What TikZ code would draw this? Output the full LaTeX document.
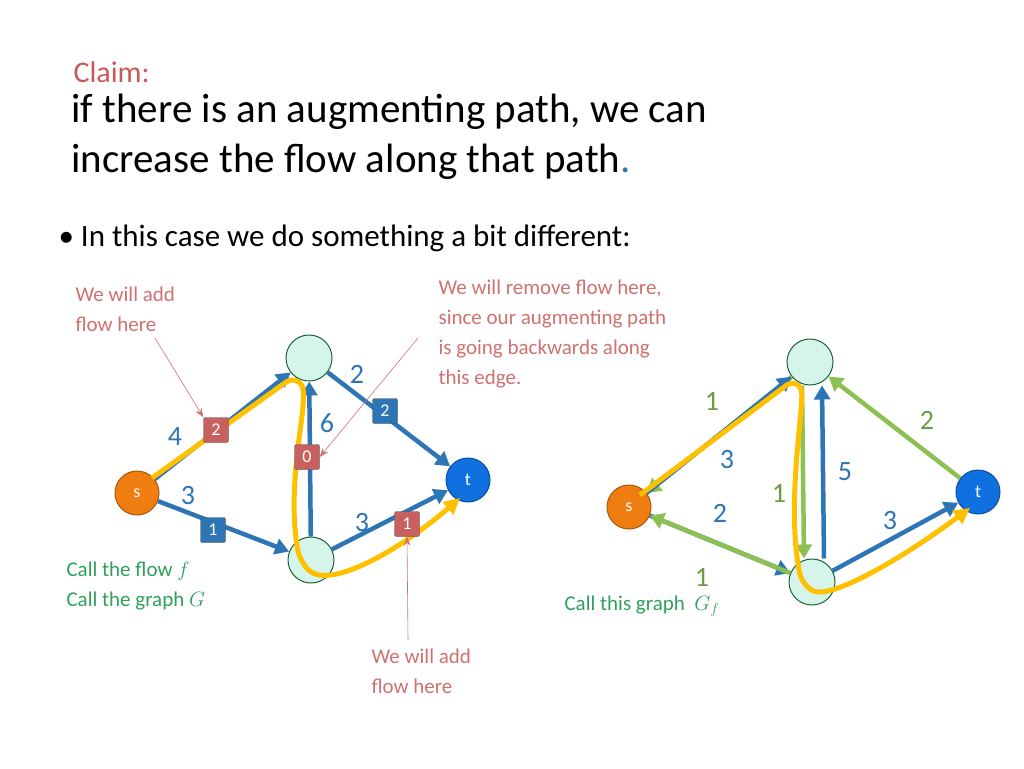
\documentclass[tikz,border=0pt]{standalone}
\usepackage{fontspec}
\setmainfont{Carlito}
\usetikzlibrary{calc, arrows.meta}
\definecolor{claimred}{HTML}{C8585A}
\definecolor{notered}{HTML}{D07070}
\definecolor{edgeblue}{HTML}{2E75B6}
\definecolor{edgegreen}{HTML}{8CC152}
\definecolor{textgreen}{HTML}{2EA05A}
\definecolor{pathyellow}{HTML}{FFC000}
\definecolor{nodecyan}{HTML}{D5F5EA}
\definecolor{sorange}{HTML}{F07D10}
\definecolor{tblue}{HTML}{1070E0}
\definecolor{boxblue}{HTML}{2E75B6}
\definecolor{boxred}{HTML}{C86060}
\tikzset{
	vtx/.style={circle, draw=textgreen!60!black, line width=1pt, minimum size=46pt, inner sep=0pt, fill=nodecyan},
	svtx/.style={vtx, fill=sorange, draw=sorange!70!black, minimum size=44pt, text=white, font=\fontsize{18}{20}\selectfont},
	tvtx/.style={vtx, fill=tblue, draw=tblue!70!black, minimum size=44pt, text=white, font=\fontsize{18}{20}\selectfont},
	bedge/.style={draw=edgeblue, line width=4.5pt, -{Triangle[length=14pt,width=16pt]}},
	gedge/.style={draw=edgegreen, line width=4.5pt, -{Triangle[length=14pt,width=16pt]}},
	capnum/.style={text=edgeblue, font=\fontsize{28}{30}\selectfont},
	rcapnum/.style={text=edgegreen!80!black, font=\fontsize{28}{30}\selectfont},
	flowbox/.style={draw=black!70, fill=#1, rounded corners=2pt, text=white, minimum size=25pt, inner sep=1pt, font=\fontsize{18}{20}\selectfont},
	note/.style={text=notered, align=left, font=\fontsize{21}{30}\selectfont, anchor=north west},
	gnote/.style={text=textgreen, align=left, font=\fontsize{21}{30}\selectfont, anchor=north west},
	notearrow/.style={draw=notered, line width=0.6pt, -{Stealth[length=9pt]}},
	aug/.style={draw=pathyellow, line width=5pt, rounded corners=12pt, -{Triangle[length=16pt,width=16pt]}}
}
\begin{document}
\begin{tikzpicture}[x=1pt, y=-1pt]
	\useasboundingbox (0,0) rectangle (1024,768);
	%Title
	\node[anchor=west, text=claimred, font=\fontsize{30}{32}\selectfont] (claim) at (70,72) {Claim:};
	\node[anchor=north west, align=left, font=\fontsize{41}{50}\selectfont] (title) at (68,90)
		{if there is an augmenting path, we can\\increase the flow along that path{\color{edgeblue}.}};
	\node[anchor=west, font=\fontsize{31}{34}\selectfont] (bullet) at (55,238) {\textbullet\ In this case we do something a bit different:};
	%Left graph G
	\node[vtx] (ltop) at (309,358) {};
	\node[vtx] (lbot) at (311,560) {};
	\node[svtx] (ls) at (137,493) {s};
	\node[tvtx] (lt) at (468,480) {t};
	\draw[bedge] (ls) -- (ltop);
	\draw[bedge] (ls) -- (lbot);
	\draw[bedge] (lbot) -- (ltop);
	\draw[bedge] (ltop) -- (lt);
	\draw[bedge] (lbot) -- (lt);
	%Augmenting path in G
	\coordinate (la1) at (152,478);
	\coordinate (la2) at (296,375);
	\coordinate (la3) at (300,562);
	\coordinate (la4) at (460,498);
	\draw[aug] (la1) -- (la2) .. controls (310,400) and (285,480) .. (la3) .. controls (330,590) and (400,550) .. (la4);
	%Capacities and flows in G
	\node[capnum] (c1) at (175,437) {4};
	\node[capnum] (c2) at (188,496) {3};
	\node[capnum] (c3) at (327,423) {6};
	\node[capnum] (c4) at (357,374) {2};
	\node[capnum] (c5) at (362,523) {3};
	\node[flowbox=boxred] (f1) at (216,430) {2};
	\node[flowbox=boxblue] (f2) at (213,530) {1};
	\node[flowbox=boxred] (f3) at (307,457) {0};
	\node[flowbox=boxblue] (f4) at (385,411) {2};
	\node[flowbox=boxred] (f5) at (407,524) {1};
	%Notes
	\node[note] (n1) at (72,283) {We will add\\flow here};
	\node[note] (n2) at (435,276) {We will remove flow here,\\since our augmenting path\\is going backwards along\\this edge.};
	\node[note] (n3) at (368,645) {We will add\\flow here};
	\coordinate (n1end) at (155,338);
	\coordinate (n2end) at (418,338);
	\coordinate (n3end) at (408,640);
	\draw[notearrow] (n1end) -- (f1.north west);
	\draw[notearrow] (n2end) -- (f3.east);
	\draw[notearrow] (n3end) -- (f5.south);
	\node[gnote] (g1) at (63,558) {Call the flow $f$\\Call the graph $G$};
	%Right graph Gf
	\node[vtx] (rtop) at (810,362) {};
	\node[vtx] (rbot) at (812,582) {};
	\node[svtx] (rs) at (629,507) {s};
	\node[tvtx] (rt) at (978,492) {t};
	\draw[gedge] (rtop) -- (rs);
	\draw[bedge] (rs) -- (rtop);
	\draw[bedge] (rs) -- (rbot);
	\draw[gedge] (rbot) -- (rs);
	\draw[gedge] ($(rtop.south)+(-8,0)$) -- ($(rbot.north)+(-8,0)$);
	\draw[bedge] ($(rbot.north)+(12,0)$) -- ($(rtop.south)+(12,0)$);
	\draw[gedge] (rt) -- (rtop);
	\draw[bedge] (rbot) -- (rt);
	%Augmenting path in Gf
	\coordinate (ra1) at (640,495);
	\coordinate (ra2) at (796,378);
	\coordinate (ra3) at (802,585);
	\coordinate (ra4) at (970,508);
	\draw[aug] (ra1) -- (ra2) .. controls (806,400) and (785,500) .. (ra3) .. controls (830,600) and (900,560) .. (ra4);
	%Residual capacities
	\node[rcapnum] (r1) at (712,401) {1};
	\node[capnum] (r2) at (727,460) {3};
	\node[capnum] (r3) at (720,513) {2};
	\node[rcapnum] (r4) at (702,577) {1};
	\node[rcapnum] (r5) at (779,493) {1};
	\node[capnum] (r6) at (845,472) {5};
	\node[rcapnum] (r7) at (927,420) {2};
	\node[capnum] (r8) at (890,521) {3};
	\node[gnote, anchor=west] (g2) at (561,606) {Call this graph~ $G_f$};
\end{tikzpicture}
\end{document}
